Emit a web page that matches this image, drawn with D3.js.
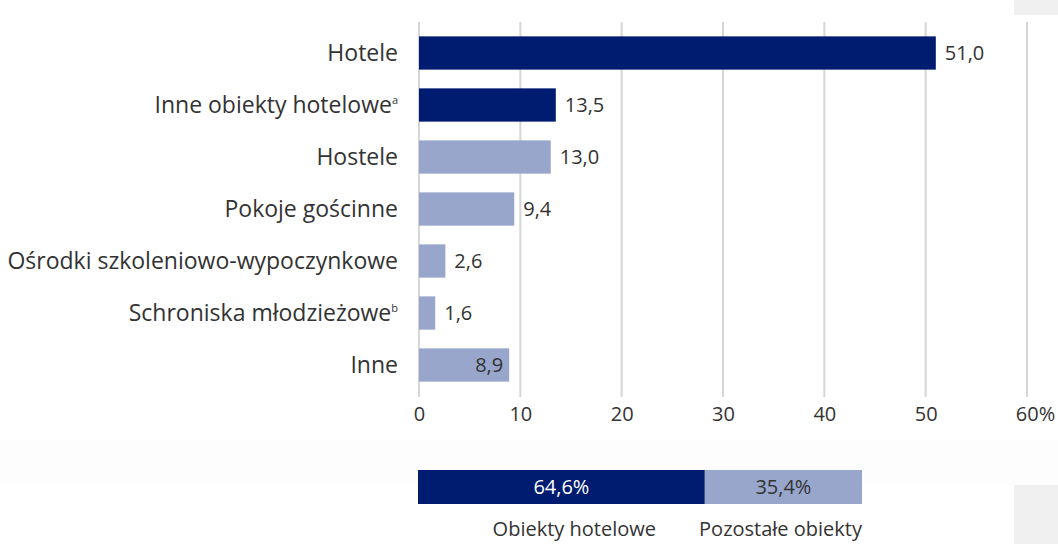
<!DOCTYPE html>
<html>
<head>
<meta charset="utf-8">
<script src="https://cdn.jsdelivr.net/npm/d3@7"></script>
<style>
  body { margin: 0; background: #fff; }
  svg { display: block; font-family: "Open Sans", "Noto Sans", sans-serif; }
</style>
</head>
<body>
<div id="chart"></div>
<script>
// data
const categories = ["Hotele", "Inne obiekty hotelowe", "Hostele", "Pokoje gościnne",
                    "Ośrodki szkoleniowo-wypoczynkowe", "Schroniska młodzieżowe", "Inne"];
const footnotes = ["", "a", "", "", "", "b", ""];
const values = [51.0, 13.5, 13.0, 9.4, 2.6, 1.6, 8.9];
const groups = ["hotel", "hotel", "other", "other", "other", "other", "other"];
const tickValues = [0, 10, 20, 30, 40, 50, 60];

const shareLabels = ["Obiekty hotelowe", "Pozostałe obiekty"];
const shareValues = [64.6, 35.4];

const dark = "#001c71", light = "#98a6cc", textCol = "#333";
const fmt = v => d3.format(".1f")(v).replace(".", ",");

const W = 1058, H = 544;
const svg = d3.select("#chart").append("svg").attr("width", W).attr("height", H);

// background patches
svg.append("rect").attr("x", 0).attr("y", 440).attr("width", W).attr("height", 45).attr("fill", "#fdfdfd");
svg.append("rect").attr("x", 1014).attr("y", 0).attr("width", 44).attr("height", 15).attr("fill", "#f0f0f0");
svg.append("rect").attr("x", 1014).attr("y", 485).attr("width", 44).attr("height", 59).attr("fill", "#f0f0f0");

const x = d3.scaleLinear().domain([0, 60]).range([419, 1027]);
const y = d3.scaleBand().domain(categories).range([27, 391]).paddingInner(0.36).paddingOuter(0.18);

// gridlines
svg.append("g").selectAll("line").data(tickValues).join("line")
  .attr("x1", d => x(d)).attr("x2", d => x(d))
  .attr("y1", 22).attr("y2", 397)
  .attr("stroke", "#d6d6d6").attr("stroke-width", 2);

// x axis labels
const xAxis = d3.axisBottom(x).tickValues(tickValues).tickSize(0).tickPadding(0)
  .tickFormat(d => d === 60 ? "60%" : d);
const gx = svg.append("g").attr("transform", "translate(0,405)").call(xAxis);
gx.select(".domain").remove();
gx.selectAll("text").attr("font-size", 20).attr("fill", textCol)
  .attr("font-family", "Open Sans, sans-serif").attr("dy", "0.8em");
gx.selectAll(".tick").filter(d => d === 60).select("text").attr("dx", "0.4em");

// bars
svg.append("g").selectAll("rect").data(categories).join("rect")
  .attr("x", x(0)).attr("y", d => y(d))
  .attr("width", (d, i) => x(values[i]) - x(0))
  .attr("height", y.bandwidth())
  .attr("fill", (d, i) => groups[i] === "hotel" ? dark : light);

// category labels
const lab = svg.append("g").selectAll("text").data(categories).join("text")
  .attr("x", 398).attr("y", d => y(d) + y.bandwidth() / 2).attr("dy", "0.35em")
  .attr("text-anchor", "end").attr("font-size", 23).attr("fill", textCol);
lab.append("tspan").text(d => d);
lab.append("tspan").text((d, i) => footnotes[i])
  .attr("font-size", 11).attr("baseline-shift", "80%");

// value labels
svg.append("g").selectAll("text").data(categories).join("text")
  .attr("x", (d, i) => i === 6 ? x(values[i]) - 6 : x(values[i]) + 9)
  .attr("y", d => y(d) + y.bandwidth() / 2).attr("dy", "0.35em")
  .attr("text-anchor", (d, i) => i === 6 ? "end" : "start")
  .attr("font-size", 20).attr("fill", textCol)
  .text((d, i) => fmt(values[i]));

// share bar
const xs = d3.scaleLinear().domain([0, 100]).range([418, 862]);
let acc = 0;
const shares = shareValues.map((v, i) => { const s = { v, label: shareLabels[i], x0: acc, x1: acc + v }; acc += v; return s; });
svg.append("g").selectAll("rect").data(shares).join("rect")
  .attr("x", d => xs(d.x0)).attr("y", 470)
  .attr("width", d => xs(d.x1) - xs(d.x0)).attr("height", 34)
  .attr("fill", (d, i) => i === 0 ? dark : light);
svg.append("g").selectAll("text").data(shares).join("text")
  .attr("x", d => (xs(d.x0) + xs(d.x1)) / 2).attr("y", 487).attr("dy", "0.35em")
  .attr("text-anchor", "middle").attr("font-size", 20)
  .attr("fill", (d, i) => i === 0 ? "#fff" : textCol)
  .text(d => fmt(d.v) + "%");
svg.append("g").selectAll("text").data(shares).join("text")
  .attr("x", (d, i) => i === 0 ? 656 : 862).attr("y", 536)
  .attr("text-anchor", "end").attr("font-size", 20).attr("fill", textCol)
  .text(d => d.label);
</script>
</body>
</html>
